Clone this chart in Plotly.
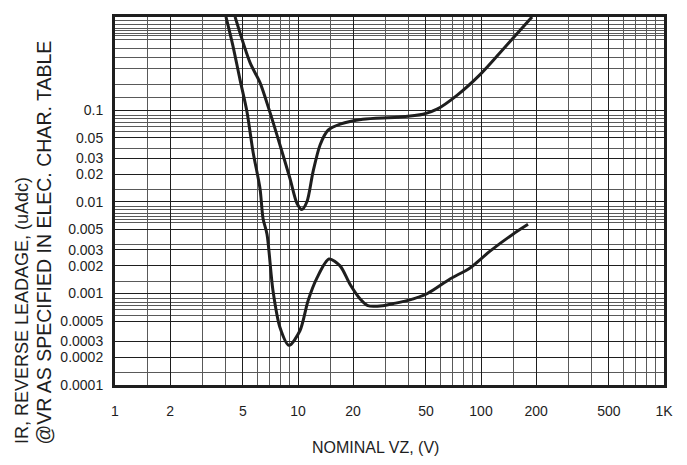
import plotly.graph_objects as go

# ---- data ----
upper_vz = [4.53, 5.47, 6.2, 7.03, 7.97, 9.04, 9.88, 10.5, 11.2, 12.08, 13.2, 14.6, 17.0,
            22.6, 34.7, 48.2, 57.5, 73.9, 98.8, 127, 190]
upper_ir = [1.05, 0.332, 0.201, 0.095, 0.0419, 0.018, 0.00962, 0.00827, 0.0101, 0.0213,
            0.0419, 0.0608, 0.0708, 0.0801, 0.0842, 0.0907, 0.103, 0.146, 0.246, 0.426, 1.05]

lower_vz = [4.04, 4.41, 4.82, 5.27, 5.68, 6.2, 6.44, 6.77, 7.3, 7.97, 8.93, 10.26, 11.35,
            12.7, 14.77, 16.98, 19.2, 21.8, 24.1, 29.1, 33.0, 39.4, 50.7, 67.7, 87.1,
            112, 149.5, 180.7]
lower_ir = [1.05, 0.507, 0.217, 0.095, 0.0352, 0.014, 0.0066, 0.00444, 0.00107, 0.000425,
            0.000271, 0.000394, 0.000834, 0.00148, 0.00238, 0.0020, 0.00127, 0.000877,
            0.000736, 0.000736, 0.000773, 0.000834, 0.000993, 0.00144, 0.0019, 0.0029,
            0.00444, 0.00569]

x_tick_vals = [1, 2, 5, 10, 20, 50, 100, 200, 500, 1000]
x_tick_text = ["1", "2", "5", "10", "20", "50", "100", "200", "500", "1K"]
x_grid_minor = [1.5, 3, 4, 6, 7, 8, 9, 15, 30, 40, 60, 70, 80, 90,
                150, 300, 400, 600, 700, 800, 900]

y_tick_vals = [0.0001, 0.0002, 0.0003, 0.0005, 0.001, 0.002, 0.003, 0.005,
               0.01, 0.02, 0.03, 0.05, 0.1]
y_tick_text = ["0.0001", "0.0002", "0.0003", "0.0005", "0.001", "0.002", "0.003", "0.005",
               "0.01", "0.02", "0.03", "0.05", "0.1"]
y_grid_minor = [0.96, 0.86, 0.79, 0.74, 0.69, 0.65, 0.59, 0.48, 0.376, 0.29, 0.19, 0.139,
                0.088, 0.081, 0.074, 0.066, 0.059, 0.038, 0.0135,
                0.0089, 0.0082, 0.0075, 0.0069, 0.0064, 0.0059, 0.0034, 0.00135,
                0.00087, 0.0008, 0.00074, 0.00066, 0.00057, 0.000136]

FONT = "Liberation Sans, Arial, sans-serif"
INK = "#1e1e1e"

fig = go.Figure()
for xs, ys in [(upper_vz, upper_ir), (lower_vz, lower_ir)]:
    fig.add_trace(go.Scatter(x=xs, y=ys, mode="lines",
                             line=dict(color=INK, width=3, shape="spline", smoothing=0.8),
                             showlegend=False, hoverinfo="skip"))

# the page body adds an 8px offset, so margins are reduced by 8px on top/left
fig.update_layout(
    width=687, height=465,
    margin=dict(l=107, r=31, t=6, b=88),
    paper_bgcolor="white", plot_bgcolor="white",
    font=dict(family=FONT, size=14, color=INK),
    showlegend=False,
)

fig.update_xaxes(
    type="log", range=[0, 3],
    tickmode="array", tickvals=x_tick_vals, ticktext=x_tick_text,
    showgrid=True, gridcolor="#1e1e1e", gridwidth=1,
    minor=dict(tickmode="array", tickvals=x_grid_minor, showgrid=True,
               gridcolor="#595959", gridwidth=1.2, ticks=""),
    showline=True, linecolor=INK, linewidth=3, mirror=True,
    ticks="", ticklabelstandoff=11, zeroline=False,
)
fig.update_yaxes(
    type="log", range=[-4, 0.02],
    tickmode="array", tickvals=y_tick_vals, ticktext=y_tick_text,
    showgrid=True, gridcolor="#1e1e1e", gridwidth=1,
    minor=dict(tickmode="array", tickvals=y_grid_minor, showgrid=True,
               gridcolor="#595959", gridwidth=1.2, ticks=""),
    showline=True, linecolor=INK, linewidth=3, mirror=True,
    ticks="", ticklabelstandoff=6, zeroline=False,
)

# axis titles as annotations (positioned like the reference)
fig.add_annotation(text="NOMINAL VZ, (V)", xref="paper", yref="paper",
                   x=(375 - 115) / 549, y=(385 - 448) / 371,
                   xanchor="center", yanchor="middle", showarrow=False,
                   font=dict(family=FONT, size=16, color=INK))
fig.add_annotation(text="IR, REVERSE LEADAGE, (uAdc)", xref="paper", yref="paper",
                   x=(22 - 115) / 549, y=(385 - 447) / 371, textangle=-90,
                   xanchor="center", yanchor="bottom", showarrow=False,
                   font=dict(family=FONT, size=18, color=INK))
fig.add_annotation(text="@VR AS SPECIFIED IN ELEC. CHAR. TABLE", xref="paper", yref="paper",
                   x=(44 - 115) / 549, y=(385 - 447) / 371, textangle=-90,
                   xanchor="center", yanchor="bottom", showarrow=False,
                   font=dict(family=FONT, size=19.5, color=INK))

fig.write_html("out.html")
